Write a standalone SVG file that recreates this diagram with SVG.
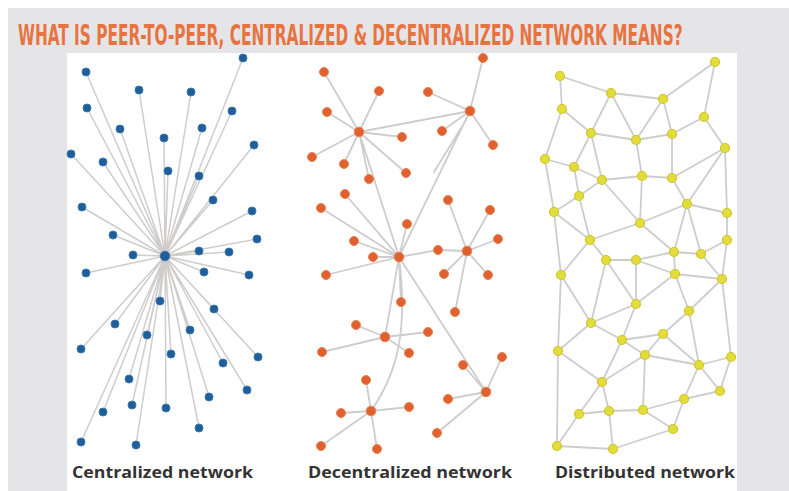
<svg xmlns="http://www.w3.org/2000/svg" width="789" height="491" viewBox="0 0 789 491">
<style>
.e{stroke:#cdcdcd;stroke-width:1.8;fill:none;stroke-linecap:round}
.ec{stroke:#cfcccc;stroke-width:1.5;fill:none}
.b{fill:#1f5e98;stroke:#3a78b0;stroke-width:1}
.o{fill:#e0612f;stroke:#ea8050;stroke-width:1}
.y{fill:#e4dc3c;stroke:#cfc52a;stroke-width:1.2}
.lbl{font-family:"Open Sans","DejaVu Sans",sans-serif;font-weight:bold;font-size:15.5px;fill:#333333}
.ttl{font-family:"DejaVu Sans Condensed","DejaVu Sans",sans-serif;font-weight:bold;font-size:28px;fill:#e8733f}
</style>
<rect x="0" y="0" width="789" height="491" fill="#ffffff"/>
<rect x="8" y="8" width="781" height="483" fill="#e5e5e8"/>
<rect x="67" y="53" width="670" height="438" fill="#ffffff"/>
<text class="ttl" transform="translate(18,45) scale(0.62,1)" x="0" y="0" textLength="1072" lengthAdjust="spacingAndGlyphs">WHAT IS PEER-TO-PEER, CENTRALIZED &amp; DECENTRALIZED NETWORK MEANS?</text>

<g id="connectors">
<g id="central-edges" class="ec">
<path d="M165,256L86,72M165,256L243,58M165,256L139,90M165,256L191,92M165,256L87,108M165,256L232,111M165,256L120,129M165,256L202,128M165,256L164,138M165,256L71,154M165,256L103,162M165,256L254,145M165,256L168,171M165,256L199,176M165,256L213,200M165,256L82,207M165,256L252,211M165,256L113,235M165,256L257,239M165,256L133,255M165,256L199,251M165,256L229,252M165,256L86,273M165,256L204,272M165,256L249,275M165,256L160,301M165,256L214,309M165,256L115,324M165,256L147,335M165,256L190,330M165,256L81,349M165,256L171,354M165,256L258,357M165,256L223,363M165,256L129,379M165,256L247,390M165,256L209,397M165,256L103,412M165,256L132,405M165,256L166,408M165,256L199,428M165,256L81,442M165,256L136,445"/>
</g>
<g id="decentral-edges" class="e">
<path d="M359,132L324,72M359,132L379,91M359,132L327,112M359,132L402,137M359,132L312,157M359,132L344,164M359,132L406,173M359,132L369,179M359,132L470,111M359,132L399,257"/>
<path d="M470,111L483,58M470,111L428,92M470,111L442,131M470,111L493,145M470,111L399,257M466,120L434,172"/>
<path d="M399,257L345,194M399,257L321,208M399,257L354,241M399,257L407,224M399,257L373,257M399,257L438,250M399,257L326,275M399,257L401,302M399,257L385,337M399,257L486,392M463,365L486,392M399,257C408,330 398,372 371,411"/>
<path d="M438,250L467,251M467,251L448,200M467,251L490,210M467,251L498,239M467,251L444,274M467,251L488,275M467,251L455,312"/>
<path d="M385,337L356,325M385,337L428,332M385,337L322,352M385,337L409,353"/>
<path d="M486,392L502,357M486,392L448,399M486,392L437,433"/>
<path d="M371,411L366,380M371,411L341,413M371,411L409,407M371,411L321,446M371,411L377,449"/>
</g>
<g id="distributed-edges" class="e">
<path d="M560,76L611,93M560,76L562,109M611,93L663,99M663,99L715,62M715,62L704,117M611,93L591,133M611,93L636,140M663,99L636,140M663,99L672,134M562,109L591,133M562,109L545,159M591,133L636,140M636,140L672,134M672,134L704,117M704,117L725,148M591,133L574,167M591,133L602,180M636,140L642,176M672,134L672,178M725,148L672,178M725,148L687,204M725,148L727,213M545,159L574,167M545,159L554,212M574,167L602,180M574,167L579,196M602,180L642,176M642,176L672,178M602,180L579,196M602,180L640,223M642,176L640,223M672,178L687,204M579,196L554,212M579,196L590,240M554,212L590,240M687,204L640,223M687,204L727,213M687,204L674,252M687,204L701,254M640,223L590,240M640,223L674,252M727,213L727,240"/>
<path d="M590,240L606,260M590,240L561,275M554,212L561,275M606,260L636,260M636,260L674,252M674,252L701,254M674,252L675,274M701,254L722,279M727,240L722,279M727,240L701,254M636,260L675,274M675,274L722,279M606,260L636,304M636,260L636,304M675,274L636,304M675,274L689,311M722,279L689,311M722,279L731,357M561,275L591,323M606,260L591,323M636,304L591,323M636,304L622,340M689,311L663,334M689,311L699,365M591,323L622,340M591,323L558,351M622,340L663,334M622,340L645,355M663,334L645,355M663,334L699,365M645,355L699,365M699,365L731,357M699,365L720,391M731,357L720,391M622,340L602,382M558,351L602,382M645,355L602,382M645,355L643,410M699,365L684,399M720,391L684,399M561,275L558,351M558,351L557,446M602,382L579,414M602,382L609,411M579,414L609,411M609,411L643,410M643,410L684,399M643,410L673,429M684,399L673,429M579,414L557,446M609,411L613,449M557,446L613,449M613,449L673,429"/>
</g>
</g>

<g id="central-nodes" class="b">
<circle id="c-hub" cx="165" cy="256" r="4.8"/>
<circle id="c1" cx="86" cy="72" r="4"/><circle id="c2" cx="243" cy="58" r="4"/><circle id="c3" cx="139" cy="90" r="4"/><circle id="c4" cx="191" cy="92" r="4"/><circle id="c5" cx="87" cy="108" r="4"/><circle id="c6" cx="232" cy="111" r="4"/><circle id="c7" cx="120" cy="129" r="4"/><circle id="c8" cx="202" cy="128" r="4"/><circle id="c9" cx="164" cy="138" r="4"/><circle id="c10" cx="71" cy="154" r="4"/><circle id="c11" cx="103" cy="162" r="4"/><circle id="c12" cx="254" cy="145" r="4"/><circle id="c13" cx="168" cy="171" r="4"/><circle id="c14" cx="199" cy="176" r="4"/><circle id="c15" cx="213" cy="200" r="4"/><circle id="c16" cx="82" cy="207" r="4"/><circle id="c17" cx="252" cy="211" r="4"/><circle id="c18" cx="113" cy="235" r="4"/><circle id="c19" cx="257" cy="239" r="4"/><circle id="c20" cx="133" cy="255" r="4"/><circle id="c21" cx="199" cy="251" r="4"/><circle id="c22" cx="229" cy="252" r="4"/><circle id="c23" cx="86" cy="273" r="4"/><circle id="c24" cx="204" cy="272" r="4"/><circle id="c25" cx="249" cy="275" r="4"/><circle id="c26" cx="160" cy="301" r="4"/><circle id="c27" cx="214" cy="309" r="4"/><circle id="c28" cx="115" cy="324" r="4"/><circle id="c29" cx="147" cy="335" r="4"/><circle id="c30" cx="190" cy="330" r="4"/><circle id="c31" cx="81" cy="349" r="4"/><circle id="c32" cx="171" cy="354" r="4"/><circle id="c33" cx="258" cy="357" r="4"/><circle id="c34" cx="223" cy="363" r="4"/><circle id="c35" cx="129" cy="379" r="4"/><circle id="c36" cx="247" cy="390" r="4"/><circle id="c37" cx="209" cy="397" r="4"/><circle id="c38" cx="103" cy="412" r="4"/><circle id="c39" cx="132" cy="405" r="4"/><circle id="c40" cx="166" cy="408" r="4"/><circle id="c41" cx="199" cy="428" r="4"/><circle id="c42" cx="81" cy="442" r="4"/><circle id="c43" cx="136" cy="445" r="4"/>
</g>

<g id="decentral-nodes" class="o">
<circle id="d1" cx="324" cy="72" r="4.5"/><circle id="d2" cx="483" cy="58" r="4.5"/><circle id="d3" cx="379" cy="91" r="4.5"/><circle id="d4" cx="428" cy="92" r="4.5"/><circle id="d5" cx="327" cy="112" r="4.5"/><circle id="d-hub2" cx="470" cy="111" r="4.8"/><circle id="d-hub1" cx="359" cy="132" r="4.8"/><circle id="d6" cx="442" cy="131" r="4.5"/><circle id="d7" cx="402" cy="137" r="4.5"/><circle id="d8" cx="493" cy="145" r="4.5"/><circle id="d9" cx="312" cy="157" r="4.5"/><circle id="d10" cx="344" cy="164" r="4.5"/><circle id="d11" cx="406" cy="173" r="4.5"/><circle id="d12" cx="369" cy="179" r="4.5"/><circle id="d13" cx="345" cy="194" r="4.5"/><circle id="d14" cx="448" cy="200" r="4.5"/><circle id="d15" cx="321" cy="208" r="4.5"/><circle id="d16" cx="490" cy="210" r="4.5"/><circle id="d17" cx="407" cy="224" r="4.5"/><circle id="d18" cx="354" cy="241" r="4.5"/><circle id="d19" cx="498" cy="239" r="4.5"/><circle id="d20" cx="438" cy="250" r="4.5"/><circle id="d-hub3" cx="467" cy="251" r="4.8"/><circle id="d21" cx="373" cy="257" r="4.5"/><circle id="d-hub" cx="399" cy="257" r="4.8"/><circle id="d22" cx="326" cy="275" r="4.5"/><circle id="d23" cx="444" cy="274" r="4.5"/><circle id="d24" cx="488" cy="275" r="4.5"/><circle id="d25" cx="401" cy="302" r="4.5"/><circle id="d26" cx="455" cy="312" r="4.5"/><circle id="d27" cx="356" cy="325" r="4.5"/><circle id="d28" cx="428" cy="332" r="4.5"/><circle id="d-hub4" cx="385" cy="337" r="4.8"/><circle id="d29" cx="322" cy="352" r="4.5"/><circle id="d30" cx="409" cy="353" r="4.5"/><circle id="d31" cx="502" cy="357" r="4.5"/><circle id="d32" cx="463" cy="365" r="4.5"/><circle id="d33" cx="366" cy="380" r="4.5"/><circle id="d-hub5" cx="486" cy="392" r="4.8"/><circle id="d34" cx="448" cy="399" r="4.5"/><circle id="d35" cx="409" cy="407" r="4.5"/><circle id="d36" cx="341" cy="413" r="4.5"/><circle id="d-hub6" cx="371" cy="411" r="4.8"/><circle id="d37" cx="437" cy="433" r="4.5"/><circle id="d38" cx="321" cy="446" r="4.5"/><circle id="d39" cx="377" cy="449" r="4.5"/>
</g>

<g id="distributed-nodes" class="y">
<circle id="n1" cx="560" cy="76" r="4.5"/><circle id="n2" cx="715" cy="62" r="4.5"/><circle id="n3" cx="611" cy="93" r="4.5"/><circle id="n4" cx="663" cy="99" r="4.5"/><circle id="n5" cx="562" cy="109" r="4.5"/><circle id="n6" cx="704" cy="117" r="4.5"/><circle id="n7" cx="591" cy="133" r="4.5"/><circle id="n8" cx="672" cy="134" r="4.5"/><circle id="n9" cx="636" cy="140" r="4.5"/><circle id="n10" cx="725" cy="148" r="4.5"/><circle id="n11" cx="545" cy="159" r="4.5"/><circle id="n12" cx="574" cy="167" r="4.5"/><circle id="n13" cx="642" cy="176" r="4.5"/><circle id="n14" cx="602" cy="180" r="4.5"/><circle id="n15" cx="672" cy="178" r="4.5"/><circle id="n16" cx="579" cy="196" r="4.5"/><circle id="n17" cx="687" cy="204" r="4.5"/><circle id="n18" cx="554" cy="212" r="4.5"/><circle id="n19" cx="727" cy="213" r="4.5"/><circle id="n20" cx="640" cy="223" r="4.5"/><circle id="n21" cx="590" cy="240" r="4.5"/><circle id="n22" cx="727" cy="240" r="4.5"/><circle id="n23" cx="674" cy="252" r="4.5"/><circle id="n24" cx="701" cy="254" r="4.5"/><circle id="n25" cx="606" cy="260" r="4.5"/><circle id="n26" cx="636" cy="260" r="4.5"/><circle id="n27" cx="561" cy="275" r="4.5"/><circle id="n28" cx="675" cy="274" r="4.5"/><circle id="n29" cx="722" cy="279" r="4.5"/><circle id="n30" cx="636" cy="304" r="4.5"/><circle id="n31" cx="689" cy="311" r="4.5"/><circle id="n32" cx="591" cy="323" r="4.5"/><circle id="n33" cx="663" cy="334" r="4.5"/><circle id="n34" cx="622" cy="340" r="4.5"/><circle id="n35" cx="558" cy="351" r="4.5"/><circle id="n36" cx="645" cy="355" r="4.5"/><circle id="n37" cx="731" cy="357" r="4.5"/><circle id="n38" cx="699" cy="365" r="4.5"/><circle id="n39" cx="602" cy="382" r="4.5"/><circle id="n40" cx="720" cy="391" r="4.5"/><circle id="n41" cx="684" cy="399" r="4.5"/><circle id="n42" cx="579" cy="414" r="4.5"/><circle id="n43" cx="609" cy="411" r="4.5"/><circle id="n44" cx="643" cy="410" r="4.5"/><circle id="n45" cx="673" cy="429" r="4.5"/><circle id="n46" cx="557" cy="446" r="4.5"/><circle id="n47" cx="613" cy="449" r="4.5"/>
</g>

<g id="labels">
<text class="lbl" x="72" y="478" textLength="181" lengthAdjust="spacingAndGlyphs">Centralized network</text>
<text class="lbl" x="308" y="478" textLength="204" lengthAdjust="spacingAndGlyphs">Decentralized network</text>
<text class="lbl" x="555" y="478" textLength="180" lengthAdjust="spacingAndGlyphs">Distributed network</text>
</g>
</svg>
